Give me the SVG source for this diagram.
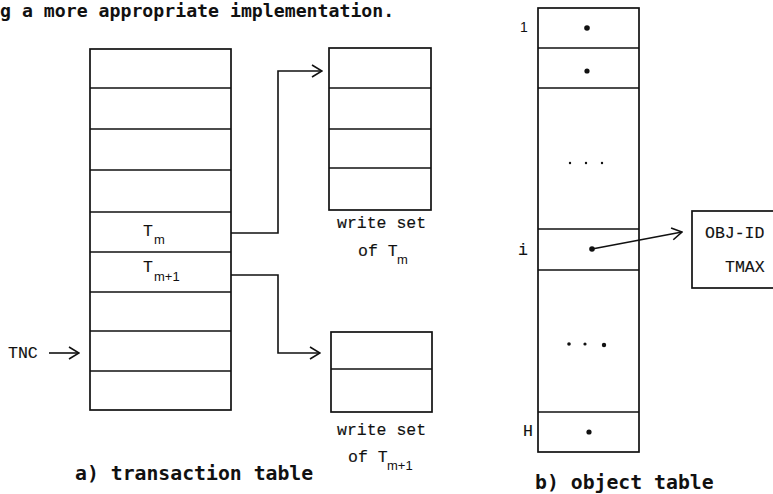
<svg xmlns="http://www.w3.org/2000/svg" width="773" height="494" viewBox="0 0 773 494">
  <defs>
    <style>
      .box { fill: none; stroke: #111; stroke-width: 1.7; }
      .rule { stroke: #111; stroke-width: 1.6; }
      .wire { fill: none; stroke: #111; stroke-width: 1.6; }
      .tw { font-family: "Liberation Mono", "Courier New", monospace; font-size: 16.5px; fill: #111; stroke: #111; stroke-width: 0.15; }
      .sub { font-family: "Liberation Sans", Arial, sans-serif; font-size: 13px; fill: #111; }
      .cap { font-family: "DejaVu Sans Mono", monospace; font-weight: bold; font-size: 19.8px; fill: #111; }
      .dot { fill: #111; }
    </style>
    <marker id="chev" viewBox="0 0 12 14" refX="11" refY="7" markerWidth="12" markerHeight="14" markerUnits="userSpaceOnUse" orient="auto">
      <path d="M1,1 L11,7 L1,13" fill="none" stroke="#111" stroke-width="1.6"/>
    </marker>
  </defs>
  <rect width="773" height="494" fill="#fff"/>

  <!-- running text above the figure -->
  <text class="cap" x="0" y="17" style="font-size:18.2px">g a more appropriate implementation.</text>

  <!-- a) transaction table -->
  <g id="transaction-table">
    <rect class="box" x="90" y="49" width="141" height="361"/>
    <line class="rule" x1="90" y1="88" x2="231" y2="88"/>
    <line class="rule" x1="90" y1="129" x2="231" y2="129"/>
    <line class="rule" x1="90" y1="170" x2="231" y2="170"/>
    <line class="rule" x1="90" y1="212" x2="231" y2="212"/>
    <line class="rule" x1="90" y1="252" x2="231" y2="252"/>
    <line class="rule" x1="90" y1="292" x2="231" y2="292"/>
    <line class="rule" x1="90" y1="331" x2="231" y2="331"/>
    <line class="rule" x1="90" y1="371" x2="231" y2="371"/>
    <text class="tw" x="143" y="236">T</text>
    <text class="sub" x="154" y="244">m</text>
    <text class="tw" x="143" y="272">T</text>
    <text class="sub" x="154" y="281">m+1</text>
  </g>

  <g id="tnc-label">
    <text class="tw" x="8" y="358">TNC</text>
  </g>

  <!-- write set of T_m -->
  <g id="write-set-m">
    <rect class="box" x="329" y="48" width="102" height="162"/>
    <line class="rule" x1="329" y1="88" x2="431" y2="88"/>
    <line class="rule" x1="329" y1="129" x2="431" y2="129"/>
    <line class="rule" x1="329" y1="168" x2="431" y2="168"/>
    <text class="tw" x="337" y="228">write set</text>
    <text class="tw" x="358" y="256">of T</text>
    <text class="sub" x="397" y="264">m</text>
  </g>

  <!-- write set of T_m+1 -->
  <g id="write-set-m1">
    <rect class="box" x="331" y="332" width="101" height="80"/>
    <line class="rule" x1="331" y1="369" x2="432" y2="369"/>
    <text class="tw" x="337" y="435">write set</text>
    <text class="tw" x="348" y="462">of T</text>
    <text class="sub" x="387" y="470">m+1</text>
  </g>

  <!-- b) object table -->
  <g id="object-table">
    <rect class="box" x="538" y="8" width="101" height="444"/>
    <line class="rule" x1="538" y1="48" x2="639" y2="48"/>
    <line class="rule" x1="538" y1="88" x2="639" y2="88"/>
    <line class="rule" x1="538" y1="229" x2="639" y2="229"/>
    <line class="rule" x1="538" y1="270" x2="639" y2="270"/>
    <line class="rule" x1="538" y1="412" x2="639" y2="412"/>
    <circle class="dot" cx="587" cy="28" r="2.8"/>
    <circle class="dot" cx="587" cy="71" r="2.6"/>
    <circle class="dot" cx="570" cy="163" r="1.2"/>
    <circle class="dot" cx="586" cy="163" r="1.2"/>
    <circle class="dot" cx="602" cy="163" r="1.2"/>
    <circle class="dot" cx="592" cy="249" r="2.8"/>
    <circle class="dot" cx="569" cy="344" r="1.8"/>
    <circle class="dot" cx="585" cy="344" r="1.6"/>
    <circle class="dot" cx="604" cy="345" r="2.2"/>
    <circle class="dot" cx="589" cy="432" r="2.6"/>
    <text class="sub" x="520" y="32" style="font-size:14px">1</text>
    <text class="tw" x="518" y="255">i</text>
    <text class="tw" x="523" y="436">H</text>
  </g>

  <!-- object record -->
  <g id="object-record">
    <rect class="box" x="692" y="211" width="100" height="77"/>
    <text class="tw" x="705" y="238">OBJ-ID</text>
    <text class="tw" x="725" y="272">TMAX</text>
  </g>

  <!-- connectors -->
  <g id="connectors">
    <path class="wire" d="M231,233 H278 V71 H322" marker-end="url(#chev)"/>
    <path class="wire" d="M231,275 H278 V353 H320" marker-end="url(#chev)"/>
    <path class="wire" d="M49,353 H79" marker-end="url(#chev)"/>
    <path class="wire" d="M592,249 L682,232" marker-end="url(#chev)"/>
  </g>

  <!-- captions -->
  <text class="cap" x="75" y="480">a) transaction table</text>
  <text class="cap" x="535" y="489">b) object table</text>
</svg>
